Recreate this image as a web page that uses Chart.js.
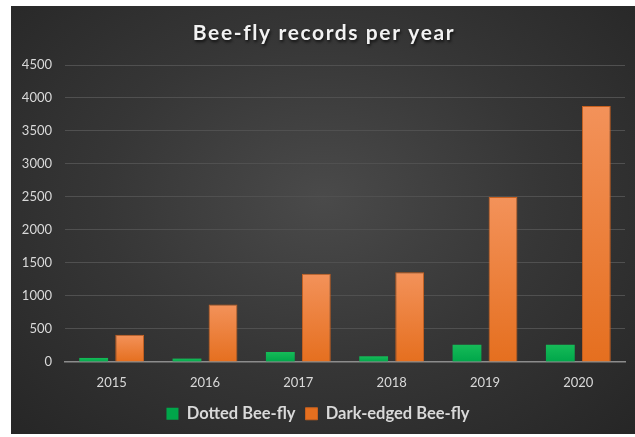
<!DOCTYPE html>
<html lang="en">
    <head>
        <meta charset="utf-8" />
        <script src="https://cdn.jsdelivr.net/npm/chart.js@4/dist/chart.umd.min.js"></script>
        <title>Bee-fly records per year</title>
        <style>
            body { margin: 0; background: #fff; }
            #caja {
                position: absolute; left: 11px; top: 6px; width: 624px; height: 428px;
                background: radial-gradient(ellipse at 50% 45%, #4a4a4a 0%, #363636 50%, #262626 100%);
            }
        </style>
    </head>
    <body>
        <div id="caja"><canvas id="barras"></canvas></div>
        <script>
            var titulo = "Bee-fly records per year";
            var anios = ["2015", "2016", "2017", "2018", "2019", "2020"];
            var dotted = [60, 50, 150, 85, 260, 260];
            var darkEdged = [410, 870, 1335, 1360, 2500, 3880];

            // degradado por barra, de claro arriba a oscuro abajo
            function degradado(claro, oscuro) {
                return function (ctx) {
                    var chart = ctx.chart;
                    if (!chart.chartArea || ctx.raw == null) return oscuro;
                    var y = chart.scales.y;
                    var g = chart.ctx.createLinearGradient(0, y.getPixelForValue(ctx.raw), 0, y.getPixelForValue(0));
                    g.addColorStop(0, claro);
                    g.addColorStop(1, oscuro);
                    return g;
                };
            }

            // titulo con espaciado y sombra (el de Chart.js no admite letterSpacing)
            var tituloPlugin = {
                id: "tituloEspaciado",
                afterDraw: function (chart) {
                    var c = chart.ctx;
                    c.save();
                    c.font = "bold 21px Lato";
                    c.letterSpacing = "1.6px";
                    c.fillStyle = "#f2f2f2";
                    c.textAlign = "center";
                    c.textBaseline = "middle";
                    c.shadowColor = "rgba(0,0,0,0.7)";
                    c.shadowBlur = 3;
                    c.shadowOffsetX = 1;
                    c.shadowOffsetY = 2;
                    c.fillText(titulo, chart.width / 2 + 1, 27);
                    c.restore();
                },
            };

            new Chart(document.getElementById("barras"), {
                type: "bar",
                data: {
                    labels: anios,
                    datasets: [
                        {
                            label: "Dotted Bee-fly",
                            data: dotted,
                            backgroundColor: degradado("#16bb58", "#00a64a"),
                            borderWidth: 0,
                        },
                        {
                            label: "Dark-edged Bee-fly",
                            data: darkEdged,
                            backgroundColor: degradado("#f3925a", "#e56f1f"),
                            borderColor: "#c8601e",
                            borderWidth: 1,
                        },
                    ],
                },
                plugins: [tituloPlugin],
                options: {
                    responsive: true,
                    maintainAspectRatio: false,
                    animation: false,
                    categoryPercentage: 0.772,
                    barPercentage: 0.8,
                    layout: { padding: { left: 0, right: 10, top: 59, bottom: 2 } },
                    scales: {
                        x: {
                            grid: { display: false },
                            border: { color: "#8c8c8c", width: 1.5 },
                            ticks: { color: "#d9d9d9", font: { family: "Lato", size: 13 }, padding: 5 },
                        },
                        y: {
                            min: 0,
                            max: 4500,
                            afterFit: function (s) { s.width = 54; },
                            border: { display: false },
                            grid: {
                                color: (c) => c.tick.value === 0 ? "#8c8c8c" : "#505050",
                                tickLength: 0,
                            },
                            ticks: {
                                stepSize: 500,
                                color: "#d9d9d9",
                                font: { family: "Lato", size: 13 },
                                padding: 13,
                                callback: (v) => String(v),
                            },
                        },
                    },
                    plugins: {
                        title: { display: false },
                        legend: {
                            position: "bottom",
                            labels: {
                                color: "#d9d9d9",
                                font: { family: "Lato", size: 16.5, weight: "bold" },
                                boxWidth: 12,
                                boxHeight: 12,
                                padding: 10,
                                useBorderRadius: false,
                            },
                        },
                        tooltip: { enabled: false },
                    },
                },
            });
        </script>
    </body>
</html>
